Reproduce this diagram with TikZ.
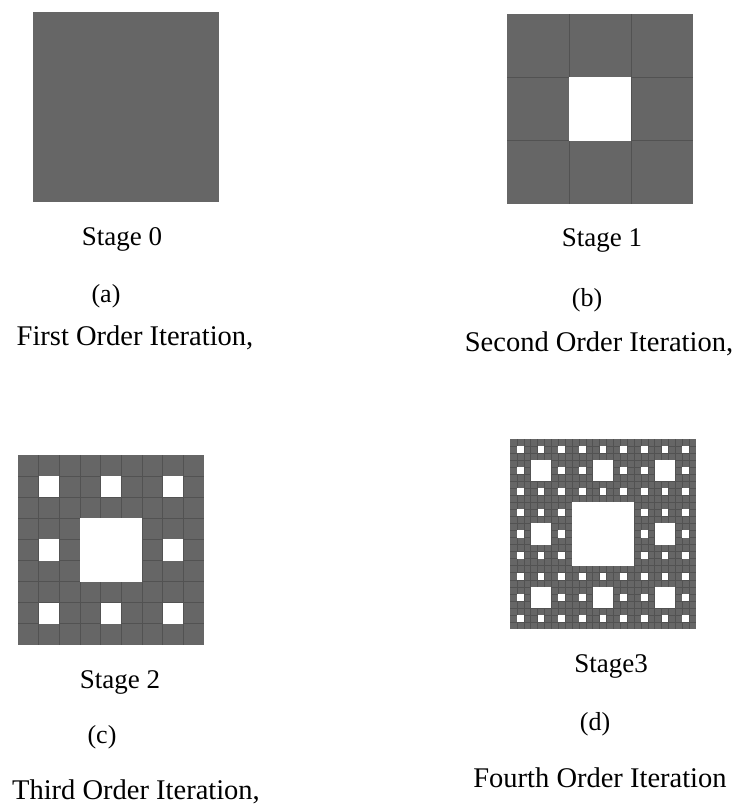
\documentclass[tikz,border=0pt]{standalone}
\usepackage{fontspec}
\setmainfont{Liberation Serif}

\definecolor{carpetgray}{HTML}{666666}
\definecolor{seamgray}{HTML}{525252}

\tikzset{
	seam/.style={draw=seamgray, line width=0.9pt},
	stagelbl/.style={inner sep=0pt, anchor=base, font=\fontsize{27}{30}\selectfont},
	taglbl/.style={inner sep=0pt, anchor=base, font=\fontsize{26}{30}\selectfont},
	iterlbl/.style={inner sep=0pt, anchor=base, font=\fontsize{28.5}{32}\selectfont}
}

% carpet of a given order, #2 = top left corner, #3 = order
\newcommand{\carpetsquare}[3][]{%
	\begin{scope}[shift={#2}, x=186pt, y=-190pt, #1]
		\fill[carpetgray] (0,0) rectangle (1,1);
		\pgfmathtruncatemacro{\ncell}{3^#3}
		\ifnum\ncell>1
			\pgfmathtruncatemacro{\nlast}{\ncell-1}
			\foreach \k in {1,...,\nlast}
				\draw[seam] (\k/\ncell,0) -- (\k/\ncell,1) (0,\k/\ncell) -- (1,\k/\ncell);
		\fi
		\ifnum#3>0
			\foreach \lv in {1,...,#3}{
				\pgfmathsetmacro{\side}{1/3^\lv}
				\pgfmathtruncatemacro{\mlast}{3^(\lv-1)-1}
				\foreach \a in {0,...,\mlast}
					\foreach \b in {0,...,\mlast}
						\fill[white] ({(3*\a+1)*\side},{(3*\b+1)*\side}) rectangle +(\side,\side);
			}
		\fi
	\end{scope}}

\begin{document}
\begin{tikzpicture}[x=1pt, y=-1pt]
		\useasboundingbox (0,0) rectangle (739,807);
		
		% Stages
			\carpetsquare{(33,12)}{0}
			\carpetsquare{(507,14)}{1}
			\carpetsquare{(18,455)}{2}
			\carpetsquare[seam/.style={draw=seamgray, line width=0.45pt}]{(510,439)}{3}
			
		% Captions
			\node[stagelbl] (stagea) at (122,245) {Stage 0};
			\node[taglbl] (taga) at (106,302) {(a)};
			\node[iterlbl] (itera) at (135,345) {First Order Iteration,};
			
			\node[stagelbl] (stageb) at (602,246) {Stage 1};
			\node[taglbl] (tagb) at (587,306) {(b)};
			\node[iterlbl] (iterb) at (599,351) {Second Order Iteration,};
			
			\node[stagelbl] (stagec) at (120,688) {Stage 2};
			\node[taglbl] (tagc) at (102,743) {(c)};
			\node[iterlbl] (iterc) at (136,799) {Third Order Iteration,};
			
			\node[stagelbl] (staged) at (611,672) {Stage3};
			\node[taglbl] (tagd) at (595,730) {(d)};
			\node[iterlbl] (iterd) at (600,787) {Fourth Order Iteration};
			
		\end{tikzpicture}
\end{document}
